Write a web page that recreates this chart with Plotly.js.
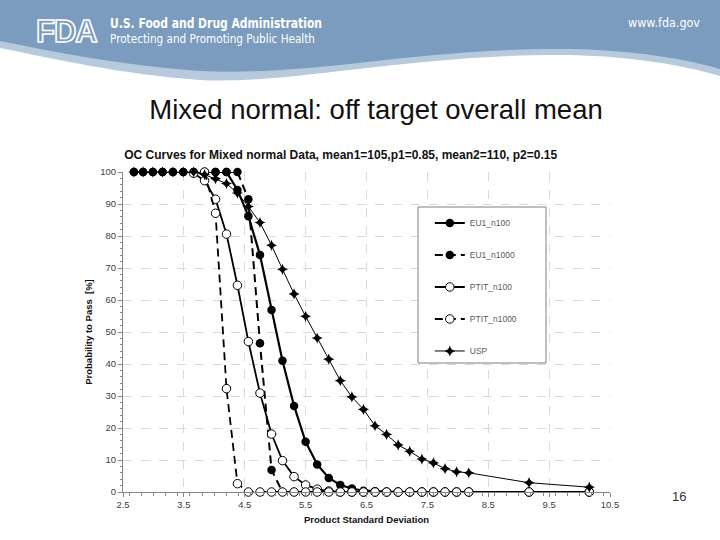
<!DOCTYPE html>
<html>
<head>
<meta charset="utf-8">
<script src="https://cdn.plot.ly/plotly-3.0.1.min.js"></script>
<style>
  body { margin: 0; background: #fff; }
  #page { position: relative; width: 720px; height: 540px; overflow: hidden; font-family: "Liberation Sans", Arial, sans-serif; }
  #banner { position: absolute; left: 0; top: 0; }
  #chart { position: absolute; left: 0; top: 0; width: 720px; height: 540px; }
  #slideTitle { position: absolute; left: 0; width: 752px; top: 94px; text-align: center; font-size: 27.5px; color: #111; }
  #pageNo { position: absolute; left: 672px; top: 489px; font-size: 13px; color: #333; }
</style>
</head>
<body>
<div id="page">
  <svg id="banner" width="720" height="90">
    <path d="M0,0 H720 V76 C680,64 620,55 560,55 C480,55 420,62 340,71 C280,78 240,82 200,80 C120,74 60,60 0,48 Z" fill="#b7cadd"/>
    <path d="M0,0 H720 V69 C680,57 620,49 560,49 C480,49 420,56 340,65 C280,71 240,73 200,71 C120,65 60,53 0,41 Z" fill="#7b9cbe"/>
    <text x="36" y="42" font-family="Liberation Sans, sans-serif" font-weight="bold" font-size="31" fill="none" stroke="#fff" stroke-width="1.6" letter-spacing="-1">FDA</text>
    <text x="110" y="28" font-family="DejaVu Sans, sans-serif" font-weight="bold" font-size="14" fill="#fff" textLength="212" lengthAdjust="spacingAndGlyphs">U.S. Food and Drug Administration</text>
    <text x="110" y="43" font-family="DejaVu Sans, sans-serif" font-size="12" fill="#fff" textLength="205" lengthAdjust="spacingAndGlyphs">Protecting and Promoting Public Health</text>
    <text x="628" y="27" font-family="DejaVu Sans, sans-serif" font-size="12.5" fill="#fff" textLength="72" lengthAdjust="spacingAndGlyphs">www.fda.gov</text>
  </svg>
  <div id="slideTitle">Mixed normal: off target overall mean</div>
  <div id="chart"></div>
  <div id="pageNo">16</div>
</div>
<script>
// product standard deviation (x)
const sd = [2.68, 2.83, 2.99, 3.15, 3.32, 3.49, 3.66, 3.84, 4.02, 4.20, 4.38,
            4.56, 4.75, 4.94, 5.12, 5.31, 5.50, 5.69, 5.88, 6.07, 6.26, 6.45,
            6.64, 6.83, 7.02, 7.21, 7.41, 7.60, 7.79, 7.98, 8.18, 9.17, 10.16];

// probability to pass [%]
const eu1_n100 = [100, 100, 100, 100, 100, 100, 100, 100, 100, 100, 94.4,
                  86.2, 74.1, 56.9, 41.0, 26.9, 15.7, 8.6, 4.4, 2.2, 1.1, 0.4,
                  0.2, 0, 0, 0, 0, 0, 0, 0, 0, 0, 0];
const eu1_n1000 = [100, 100, 100, 100, 100, 100, 100, 100, 100, 100, 100,
                   91.5, 46.5, 6.9, 0, 0, 0, 0, 0, 0, 0, 0,
                   0, 0, 0, 0, 0, 0, 0, 0, 0, 0, 0];
const ptit_n100 = [null, null, null, null, null, null, 99.6, 97.3, 91.5, 80.6, 64.6,
                   47.0, 30.9, 18.1, 9.8, 4.8, 2.2, 0.9, 0.3, 0, 0, 0,
                   0, 0, 0, 0, 0, 0, 0, 0, 0, 0, 0];
const ptit_n1000 = [null, null, null, null, null, null, null, 100, 87.1, 32.3, 2.6,
                    0, 0, 0, 0, 0, 0, 0, 0, 0, 0, 0,
                    0, 0, 0, 0, 0, 0, 0, 0, 0, 0, 0];
const usp = [100, 100, 100, 100, 100, 100, 100, 99.2, 97.9, 96.4, 93.4,
             89.2, 84.2, 77.1, 69.6, 61.9, 54.9, 48.1, 41.5, 34.8, 29.7, 25.8,
             20.7, 18.0, 14.7, 12.7, 10.3, 9.1, 7.3, 6.3, 6.0, 2.9, 1.5];

const names = ['EU1_n100', 'EU1_n1000', 'PTIT_n100', 'PTIT_n1000', 'USP'];

const filled = {symbol: 'circle', size: 8.5, color: '#000'};
const hollow = {symbol: 'circle', size: 8.5, color: '#fff', line: {color: '#000', width: 1}};

const traces = [
  {x: sd, y: eu1_n100, name: names[0], line: {color: '#000', width: 2.2}, marker: filled},
  {x: sd, y: eu1_n1000, name: names[1], line: {color: '#000', width: 2, dash: '8px,5px'}, marker: filled},
  {x: sd, y: ptit_n100, name: names[2], line: {color: '#000', width: 1.8}, marker: hollow},
  {x: sd, y: ptit_n1000, name: names[3], line: {color: '#000', width: 1.8, dash: '8px,5px'}, marker: hollow},
  {x: sd, y: usp, name: names[4], line: {color: '#000', width: 1}, marker: {symbol: 'star-diamond', size: 8, color: '#000'}}
];
traces.forEach((t, i) => {
  t.type = 'scatter';
  t.mode = 'lines+markers';
  t.cliponaxis = false;
  t.legendgroup = 'g' + i;
});

const axisFont = {family: 'Liberation Sans, Arial, sans-serif', size: 9.5, color: '#404040'};
const titleFont = {family: 'Liberation Sans, Arial, sans-serif', size: 9.5, color: '#111'};

const layout = {
  width: 720, height: 540,
  margin: {l: 123, r: 110, t: 172, b: 48},
  paper_bgcolor: 'rgba(0,0,0,0)',
  plot_bgcolor: 'rgba(0,0,0,0)',
  showlegend: true,
  title: {
    text: '<b>OC Curves for Mixed normal Data, mean1=105,p1=0.85, mean2=110, p2=0.15</b>',
    font: {family: 'Liberation Sans, Arial, sans-serif', size: 12, color: '#111'},
    xref: 'paper', x: 0.447, xanchor: 'center',
    yref: 'container', y: 1 - 155 / 540, yanchor: 'middle'
  },
  xaxis: {
    range: [2.5, 10.5], tick0: 2.5, dtick: 1, tickformat: '.1f',
    showline: true, linecolor: '#868686', linewidth: 1,
    ticks: 'outside', ticklen: 4, tickcolor: '#868686',
    minor: {ticks: 'outside', ticklen: 2.5, dtick: 0.2, tickcolor: '#868686', showgrid: false},
    showgrid: true, gridcolor: '#d9d9d9', griddash: 'dash', gridwidth: 1,
    zeroline: false, tickfont: axisFont,
    title: {text: '<b>Product Standard Deviation</b>', font: titleFont, standoff: 6}
  },
  yaxis: {
    range: [0, 100], tick0: 0, dtick: 10,
    showline: true, linecolor: '#868686', linewidth: 1,
    ticks: 'outside', ticklen: 4, tickcolor: '#868686',
    minor: {ticks: 'outside', ticklen: 2.5, dtick: 2, tickcolor: '#868686', showgrid: false},
    showgrid: true, gridcolor: '#d9d9d9', griddash: 'dash', gridwidth: 1,
    zeroline: false, tickfont: axisFont,
    title: {text: '<b>Probability to Pass  [%]</b>', font: titleFont, standoff: 5}
  },
  legend: {
    x: 0.63, xanchor: 'left', y: 0.886, yanchor: 'top',
    bgcolor: 'rgba(0,0,0,0)', borderwidth: 0,
    font: {family: 'Liberation Sans, Arial, sans-serif', size: 8.5, color: '#595959'},
    tracegroupgap: 13, traceorder: 'grouped'
  },
  shapes: [{
    type: 'rect', xref: 'paper', yref: 'paper', layer: 'above',
    x0: (418 - 123) / 487, x1: (546 - 123) / 487,
    y0: (492 - 363) / 320, y1: (492 - 207) / 320,
    line: {color: '#7f7f7f', width: 1}, fillcolor: '#fff'
  }]
};

Plotly.newPlot('chart', traces, layout, {displayModeBar: false, staticPlot: true});
</script>
</body>
</html>
